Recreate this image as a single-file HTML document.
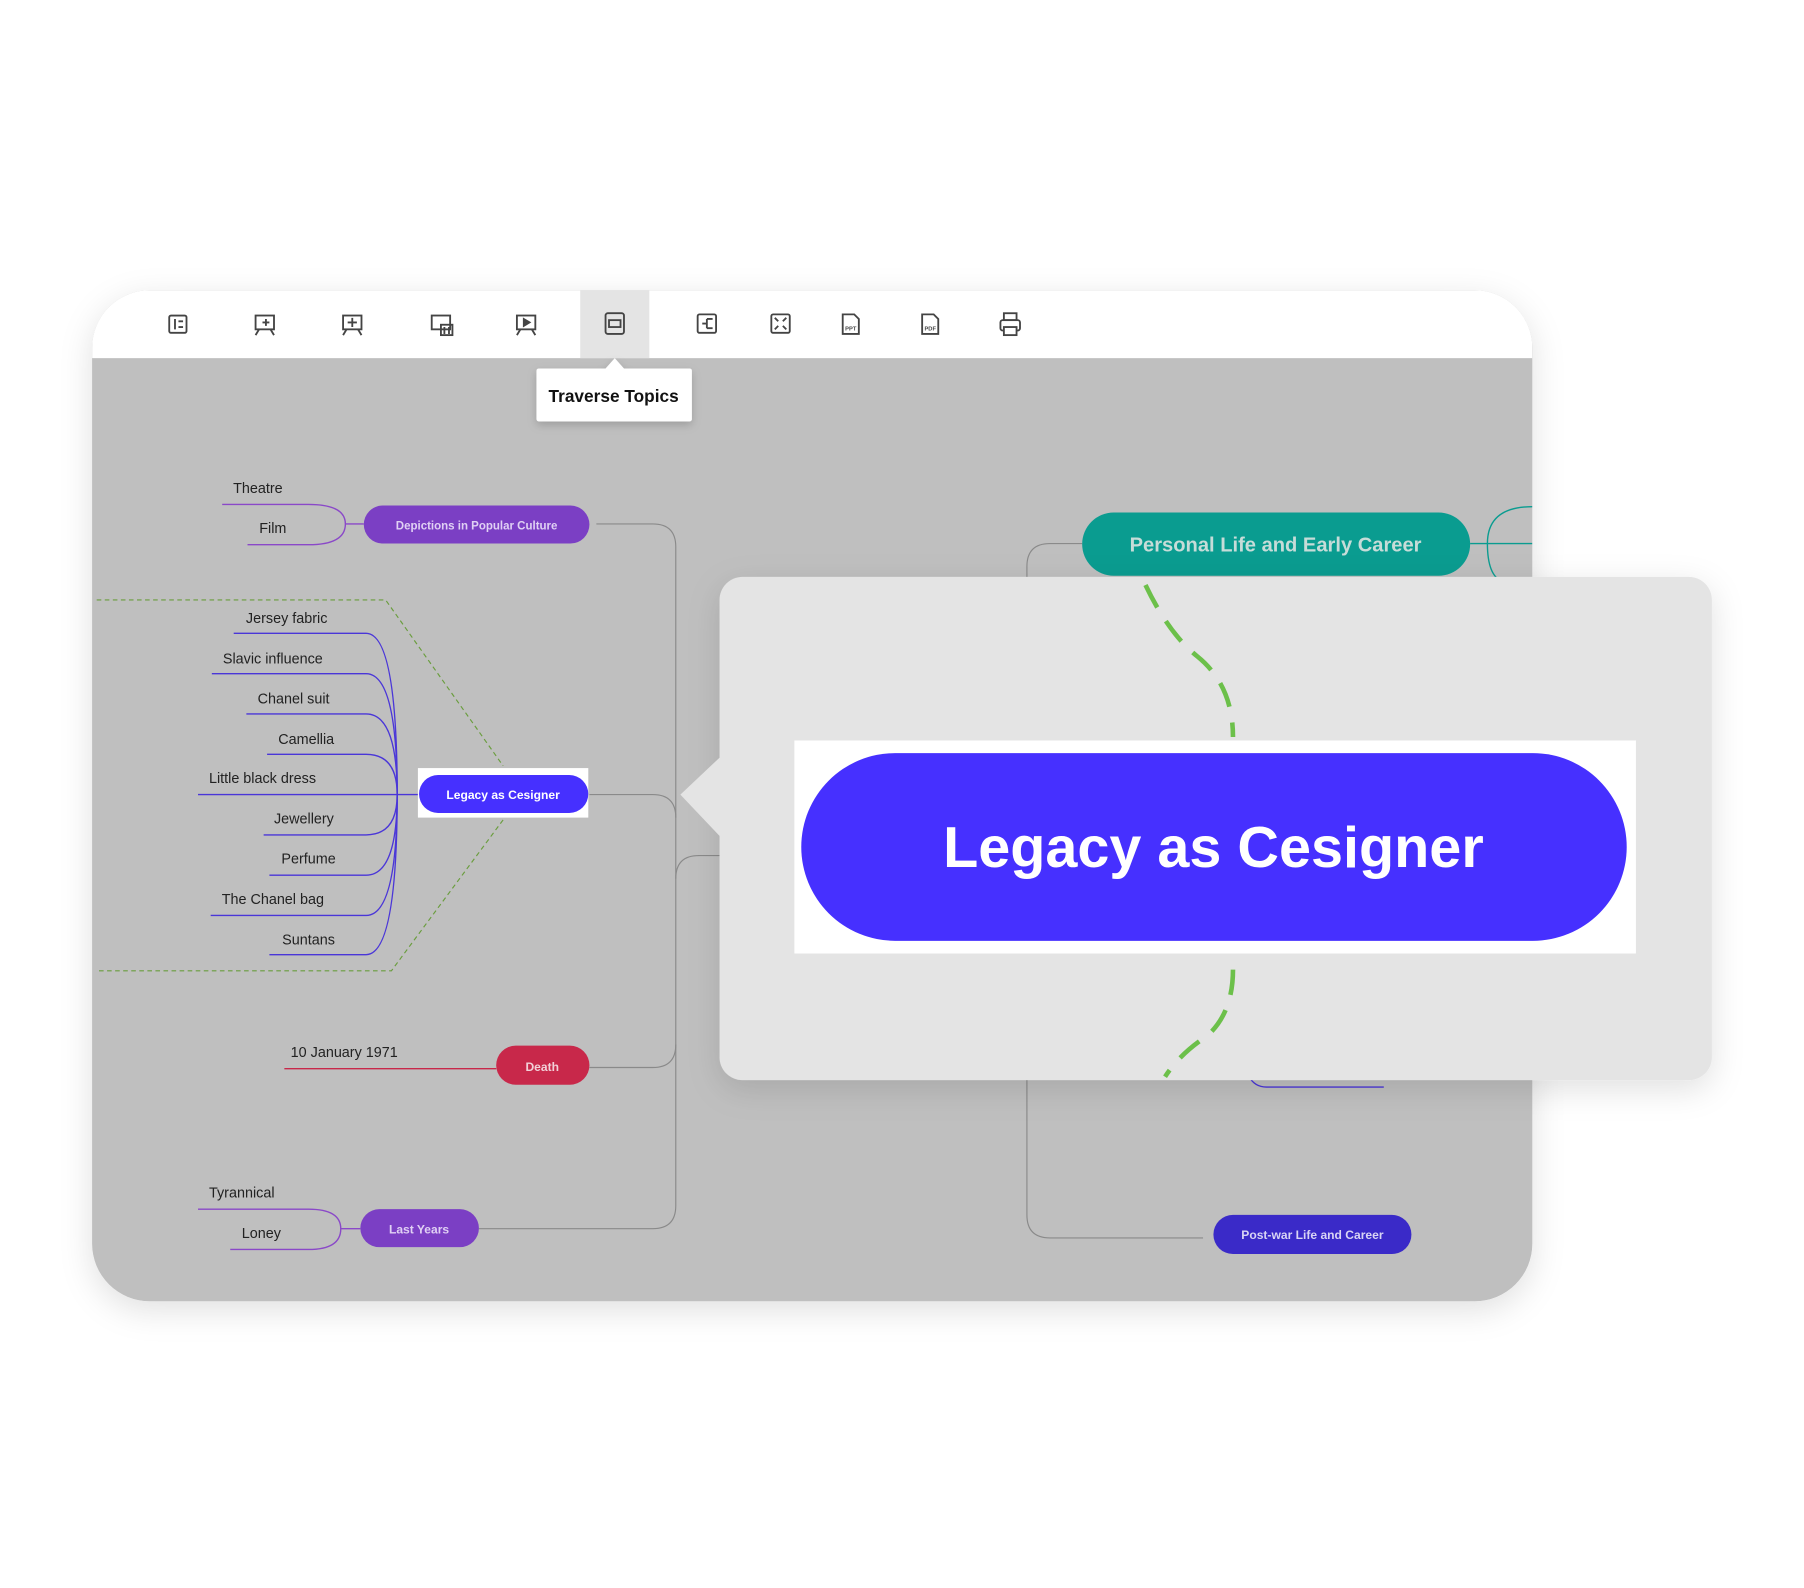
<!DOCTYPE html>
<html><head><meta charset="utf-8"><style>
html,body{margin:0;padding:0;background:#fff;width:1804px;height:1588px;overflow:hidden}
svg{display:block;font-family:"Liberation Sans",Arial,sans-serif}
</style></head><body>
<svg width="1804" height="1588" viewBox="0 0 1567 1379" preserveAspectRatio="none">
<defs>
<filter id="sh" x="-10%" y="-10%" width="120%" height="130%"><feDropShadow dx="0" dy="8" stdDeviation="14" flood-color="#000" flood-opacity="0.12"/></filter>
<filter id="sh2" x="-20%" y="-20%" width="140%" height="160%"><feDropShadow dx="0" dy="3" stdDeviation="4" flood-color="#000" flood-opacity="0.18"/></filter>
<clipPath id="card"><rect x="80" y="252" width="1251" height="878" rx="50"/></clipPath>
</defs>
<rect width="1567" height="1379" fill="#fff"/>
<rect x="80" y="252" width="1251" height="878" rx="50" fill="#bfbfbf" filter="url(#sh)"/>
<g clip-path="url(#card)">
<rect x="80" y="252" width="1251" height="59" fill="#fff"/>
<rect x="504" y="252" width="60" height="59" fill="#e4e4e4"/>
<g fill="none" stroke="#8a8a8a" stroke-width="1">
<path d="M518 455 H567 Q587 455 587 475 V1047 Q587 1067 567 1067 H416"/>
<path d="M512 927 H567 Q587 927 587 907"/>
<path d="M512 690 H567 Q587 690 587 710"/>
<path d="M587 763 Q587 743 607 743 H625"/>
<path d="M940 472 H912 Q892 472 892 492 V1055 Q892 1075 912 1075 H1045"/>
</g>
<g fill="none" stroke="#6a9d3e" stroke-width="1" stroke-dasharray="4 3">
<path d="M84 521 H335 L437 665"/>
<path d="M437 712 L340 843 H84"/>
</g>
<g fill="none" stroke="#8a48c8" stroke-width="1.2">
<path d="M193 438 H268 Q300 438 300 455 Q300 473 268 473 H215"/>
<path d="M300 455 H316"/>
<path d="M172 1050 H268 Q296 1050 296 1067 Q296 1085 268 1085 H200"/>
<path d="M296 1067 H313"/>
</g>
<g fill="none" stroke="#4a36d8" stroke-width="1.2">
<path d="M203 550 H318 Q345 550 345 690"/>
<path d="M184 585 H318 Q345 585 345 690"/>
<path d="M214 620 H318 Q345 620 345 690"/>
<path d="M232 655 H318 Q345 655 345 690"/>
<path d="M172 690 H363"/>
<path d="M229 725 H318 Q345 725 345 690"/>
<path d="M234 760 H318 Q345 760 345 690"/>
<path d="M183 795 H318 Q345 795 345 690"/>
<path d="M234 829 H318 Q345 829 345 690"/>
</g>
<path d="M247 928 H431" stroke="#c8284a" stroke-width="1.2"/>
<g font-size="12.5" fill="#222" text-anchor="middle">
<text x="224" y="428">Theatre</text><text x="237" y="463">Film</text>
<text x="249" y="541">Jersey fabric</text><text x="237" y="576">Slavic influence</text>
<text x="255" y="611">Chanel suit</text><text x="266" y="646">Camellia</text>
<text x="228" y="680">Little black dress</text><text x="264" y="715">Jewellery</text>
<text x="268" y="750">Perfume</text><text x="237" y="785">The Chanel bag</text>
<text x="268" y="820">Suntans</text><text x="299" y="918">10 January 1971</text>
<text x="210" y="1040">Tyrannical</text><text x="227" y="1075">Loney</text>
</g>
<rect x="316" y="439" width="196" height="33" rx="16.5" fill="#7b3fc4"/>
<text x="414" y="460" font-size="10" font-weight="bold" fill="#e0d0f4" text-anchor="middle">Depictions in Popular Culture</text>
<rect x="363" y="667" width="148" height="43" fill="#fff"/>
<rect x="364" y="673" width="147" height="33" rx="16.5" fill="#4630ff"/>
<text x="437" y="694" font-size="10.5" font-weight="bold" fill="#fff" text-anchor="middle">Legacy as Cesigner</text>
<rect x="431" y="908" width="81" height="34" rx="17" fill="#c8284a"/>
<text x="471" y="930" font-size="10.5" font-weight="bold" fill="#f2d0d8" text-anchor="middle">Death</text>
<rect x="313" y="1050" width="103" height="33" rx="16.5" fill="#7b3fc4"/>
<text x="364" y="1071" font-size="10.5" font-weight="bold" fill="#e0d0f4" text-anchor="middle">Last Years</text>
<g fill="none" stroke="#0a9c90" stroke-width="1.2">
<path d="M1277 472 H1331"/>
<path d="M1331 440 Q1292 440 1292 472 Q1292 500 1305 505"/>
</g>
<rect x="940" y="445" width="337" height="55" rx="27.5" fill="#0a9c90"/>
<text x="1108" y="479" font-size="17.5" font-weight="bold" fill="#c6dcd8" text-anchor="middle">Personal Life and Early Career</text>
<path d="M1085 935 Q1090 944 1100 944 H1202" fill="none" stroke="#4a36d8" stroke-width="1.2"/>
<rect x="1054" y="1055" width="172" height="34" rx="17" fill="#3a2ac8"/>
<text x="1140" y="1076" font-size="10.5" font-weight="bold" fill="#d8d4f4" text-anchor="middle">Post-war Life and Career</text>
</g>
<g fill="none" stroke="#444" stroke-width="1.6">
<rect x="147" y="274" width="15" height="15" rx="1.5"/><path d="M152 277 V286 M155 279 H159 M155 284 H159"/>
<rect x="222" y="274" width="16" height="12"/><path d="M225 286 L222 291 M235 286 L238 291 M228 280 H234 M231 277 V283"/>
<rect x="298" y="274" width="16" height="12"/><path d="M301 286 L298 291 M311 286 L314 291 M306 276 V284 M302 280 H310"/>
<rect x="375" y="274" width="16" height="12"/><rect x="383" y="282" width="10" height="9"/><path d="M386 284 V290 M390 284 V290"/>
<rect x="449" y="274" width="16" height="12"/><path d="M452 286 L449 291 M462 286 L465 291"/><path d="M455 277 L460 280 L455 283Z" fill="#444"/>
<rect x="526" y="272" width="16" height="18" rx="2"/><rect x="529" y="278" width="10" height="6"/>
<rect x="606" y="273" width="16" height="16" rx="1.5"/><path d="M610 281 H614 M614 277 H619 M614 285 H619 M614 277 V285"/>
<rect x="670" y="273" width="16" height="16" rx="1.5"/><path d="M673 276 L676 279 M683 276 L680 279 M673 286 L676 283 M683 286 L680 283"/>
<path d="M732 273 H742 L746 277 V290 H732 Z"/>
<path d="M801 273 H811 L815 277 V290 H801 Z"/>
<rect x="869" y="278" width="17" height="9" rx="2"/><rect x="872" y="272" width="11" height="6"/><rect x="872" y="284" width="11" height="7" fill="#fff"/>
</g>
<text x="739" y="287" font-size="5" font-weight="bold" fill="#444" text-anchor="middle">PPT</text>
<text x="808" y="287" font-size="5" font-weight="bold" fill="#444" text-anchor="middle">PDF</text>
<g filter="url(#sh2)">
<rect x="466" y="320" width="135" height="46" rx="2" fill="#fff"/>
<path d="M526 320 L534 311 L542 320Z" fill="#fff"/>
</g>
<text x="533" y="349" font-size="15" font-weight="bold" fill="#111" text-anchor="middle">Traverse Topics</text>
<g filter="url(#sh)">
<rect x="625" y="501" width="862" height="437" rx="20" fill="#e4e4e4"/>
</g>
<path d="M626 657 L591 690 L626 727Z" fill="#e4e4e4"/>
<g fill="none" stroke="#6cc04a" stroke-width="4" stroke-dasharray="22 14">
<path d="M995 508 Q1015 550 1040 570 Q1071 595 1071 640"/>
<path d="M1071 842 Q1071 880 1048 900 Q1025 915 1012 935"/>
</g>
<rect x="690" y="643" width="731" height="185" fill="#fff"/>
<rect x="696" y="654" width="717" height="163" rx="81.5" fill="#4630ff"/>
<text x="1054" y="753" font-size="50" font-weight="bold" fill="#fff" text-anchor="middle">Legacy as Cesigner</text>
</svg>
</body></html>
